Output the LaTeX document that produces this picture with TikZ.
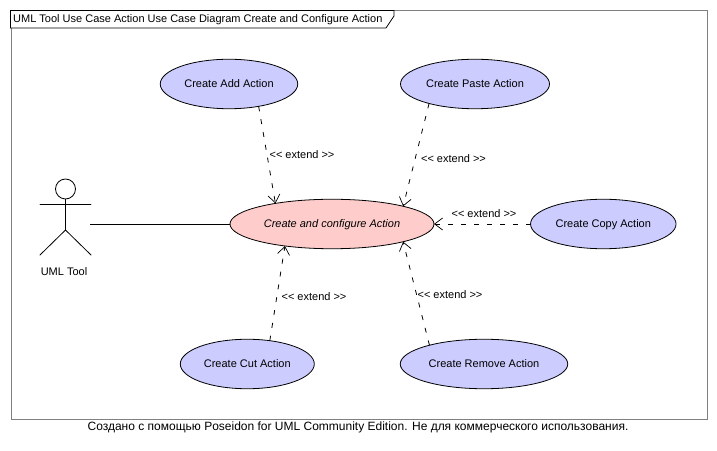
\documentclass[tikz,border=0pt]{standalone}
\usepackage{fontspec}
\setmainfont{Liberation Sans}
\usetikzlibrary{shapes.geometric,arrows.meta}
\definecolor{ucblue}{RGB}{204,204,255}
\definecolor{ucpink}{RGB}{255,204,204}
\definecolor{framegray}{RGB}{128,128,128}
\tikzset{
  usecase/.style={ellipse,draw=black,line width=0.8bp,fill=ucblue,inner sep=0pt,outer sep=0pt,minimum height=49.5bp,text height=7.5bp,text depth=0pt,font=\fontsize{11bp}{13bp}\selectfont},
  extendedge/.style={line width=0.8bp,dash pattern=on 5bp off 8bp,-{Straight Barb[length=8bp,width=12bp,line width=0.7bp]}},
  extendlabel/.style={font=\fontsize{11bp}{13bp}\selectfont,inner sep=0pt},
  limb/.style={line width=0.8bp,line cap=round}
}
\begin{document}
\begin{tikzpicture}[x=1bp,y=-1bp]
\useasboundingbox (0,0) rectangle (717,451);
\fill[white] (0,0) rectangle (717,451);
\node[draw=framegray,line width=0.8bp,minimum width=696.5bp,minimum height=408.5bp,inner sep=0pt,anchor=north west] (frame) at (10.5,10.5) {};
\draw[fill=white,line width=0.8bp] (10.5,10.5) -- (394,10.5) -- (394,16) -- (386,28) -- (10.5,28) -- cycle;
\node[anchor=west,inner sep=0pt,font=\fontsize{11bp}{13bp}\selectfont] (title) at (13,20) {UML Tool Use Case Action Use Case Diagram Create and Configure Action};

\node[usecase,minimum width=137.5bp] (add) at (229,84) {Create Add Action};
\node[usecase,minimum width=149bp] (paste) at (475,84) {Create Paste Action};
\node[usecase,fill=ucpink,minimum width=204bp,font=\fontsize{11bp}{13bp}\selectfont\itshape] (main) at (332,224) {Create and configure Action};
\node[usecase,minimum width=145.5bp] (copy) at (603.3,224) {Create Copy Action};
\node[usecase,minimum width=134bp] (cut) at (247.3,364) {Create Cut Action};
\node[usecase,minimum width=167.5bp] (remove) at (484,364) {Create Remove Action};

% actor
\node[circle,draw,line width=0.8bp,minimum size=20bp,inner sep=0pt] (head) at (65.5,189) {};
\coordinate (hip) at (65.5,230);
\coordinate (actor) at (90,224);
\draw[limb] (head.south) -- (hip);
\draw[limb] (40,204) -- (91,204);
\draw[limb] (40,255) -- (hip) -- (91,255);
\node[extendlabel] (actorlabel) at (64,271.5) {UML Tool};

\draw[line width=0.8bp] (actor) -- (main.west);
\draw[extendedge] (add.-37) -- (main.160);
\draw[extendedge] (paste.203) -- (main.14);
\draw[extendedge] (copy.west) -- (main.east);
\draw[extendedge] (cut.46) -- (main.205);
\draw[extendedge] (remove.161) -- (main.-14);

\node[extendlabel] (l1) at (302,154.5) {<{}< extend >{}>};
\node[extendlabel] (l2) at (453.5,158.5) {<{}< extend >{}>};
\node[extendlabel] (l3) at (484,213.5) {<{}< extend >{}>};
\node[extendlabel] (l4) at (314,296.5) {<{}< extend >{}>};
\node[extendlabel] (l5) at (450,294.5) {<{}< extend >{}>};

\node[inner sep=0pt,font=\fontsize{12bp}{14bp}\selectfont] (footer) at (358,427) {Создано с помощью Poseidon for UML Community Edition. Не для коммерческого использования.};
\end{tikzpicture}
\end{document}
